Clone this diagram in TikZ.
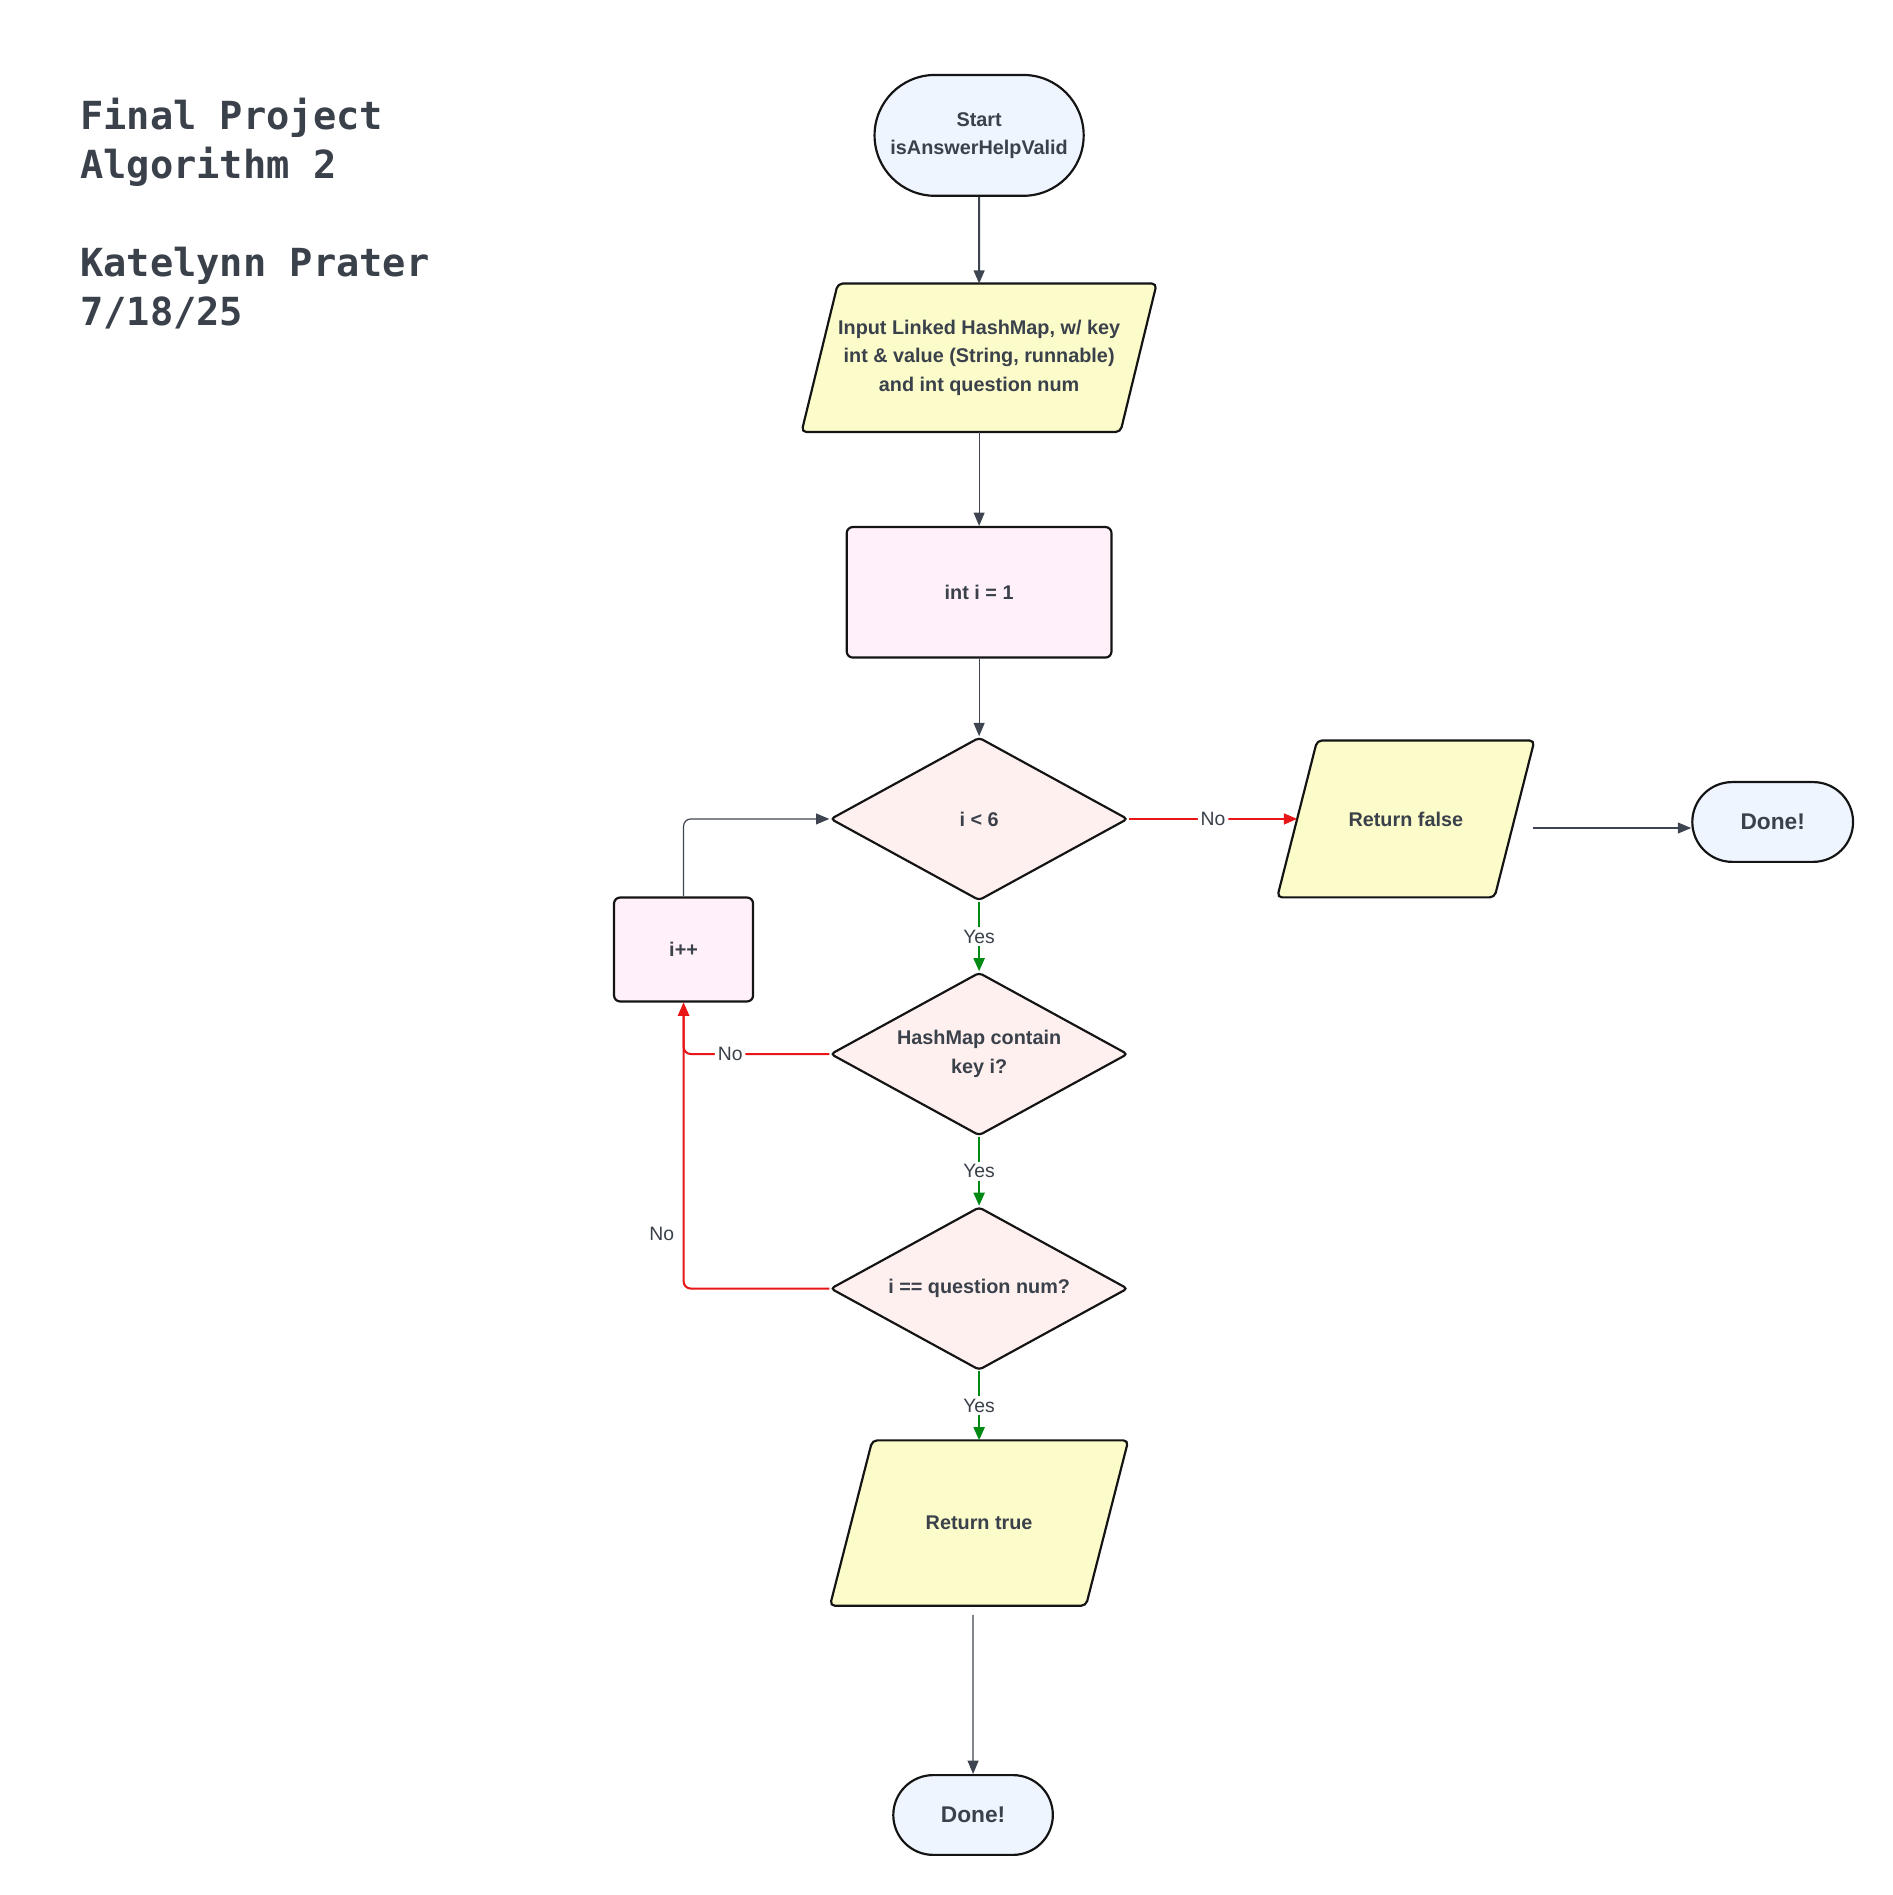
\documentclass[tikz,border=0pt]{standalone}
\usepackage{fontspec}
\setmainfont{Liberation Sans}
\newfontfamily\titlemono{DejaVu Sans Mono}
\usetikzlibrary{shapes.geometric,shapes.misc,arrows.meta,backgrounds}
\definecolor{txt}{RGB}{58,65,74}
\definecolor{termfill}{RGB}{238,245,255}
\definecolor{iofill}{RGB}{252,252,202}
\definecolor{procfill}{RGB}{255,240,250}
\definecolor{decfill}{RGB}{255,240,240}
\definecolor{linegray}{RGB}{63,69,80}
\definecolor{linered}{RGB}{232,22,22}
\definecolor{linegreen}{RGB}{0,138,20}
\tikzset{
  shp/.style={draw=black!92, line width=0.9pt, text=txt, inner sep=0pt, align=center,
    font=\bfseries\fontsize{8.2pt}{11.75pt}\selectfont},
  term/.style={shp, rounded rectangle, fill=termfill},
  iobox/.style={text=txt, inner sep=0pt, align=center,
    font=\bfseries\fontsize{8.2pt}{11.75pt}\selectfont},
  ioshape/.style={draw=black!92, line width=0.9pt, fill=iofill, rounded corners=2pt},
  proc/.style={shp, rectangle, rounded corners=2.5pt, fill=procfill},
  dec/.style={shp, diamond, aspect=1.82, fill=decfill, rounded corners=1.5pt,
    minimum width=123pt, minimum height=67.5pt},
  tip/.style={-{Triangle[length=5.5pt,width=4.5pt]}},
  gline/.style={draw=linegray, line width=0.5pt, tip},
  rline/.style={draw=linered, line width=0.85pt, tip, rounded corners=3pt},
  yline/.style={draw=linegreen, line width=1.1pt, tip},
  lbl/.style={text=txt, fill=white, inner sep=1.2pt, font=\fontsize{8pt}{10pt}\selectfont},
  ttl/.style={text=txt, inner sep=0pt, anchor=base west, font=\titlemono\bfseries\fontsize{16pt}{20pt}\selectfont}
}
\begin{document}
\begin{tikzpicture}[x=0.5pt,y=-0.5pt]
\useasboundingbox (0,0) rectangle (1566,1567.7);

\node[ttl] (t1) at (66,107.5) {Final Project};
\node[ttl] (t2) at (66,148) {Algorithm 2};
\node[ttl] (t3) at (66,229) {Katelynn Prater};
\node[ttl] (t4) at (66,269) {7/18/25};

\node[term, minimum width=86.5pt, minimum height=50pt] (start) at (810,112) {Start\\isAnswerHelpValid};
\node[iobox, minimum width=131.5pt, minimum height=61pt] (input) at (810,296) {Input Linked HashMap, w/ key\\int \& value (String, runnable)\\and int question num};
\node[proc, minimum width=109.5pt, minimum height=54pt] (init) at (810,490) {int i = 1};
\node[dec] (d1) at (810,677.5) {i {\textless} 6};
\node[iobox, minimum width=89.5pt, minimum height=64.5pt] (rf) at (1163,677.5) {Return false};
\node[term, font=\bfseries\fontsize{9.4pt}{11pt}\selectfont, minimum width=66.5pt, minimum height=33pt] (done1) at (1466.5,680) {Done!};
\node[proc, minimum width=57.5pt, minimum height=43pt] (ipp) at (565.5,785.5) {i++};
\node[dec] (d2) at (810,872) {HashMap contain\\key i?};
\node[dec] (d3) at (810,1066) {i == question num?};
\node[iobox, minimum width=105.5pt, minimum height=68pt] (rt) at (810,1260) {Return true};
\node[term, font=\bfseries\fontsize{9.4pt}{11pt}\selectfont, minimum width=66pt, minimum height=33pt] (done2) at (805,1501.5) {Done!};

\begin{pgfonlayer}{background}
\draw[ioshape] ([xshift=-7.5pt]input.south west) -- ([xshift=7.5pt]input.north west) -- ([xshift=7.5pt]input.north east) -- ([xshift=-7.5pt]input.south east) -- cycle;
\draw[ioshape] ([xshift=-8.25pt]rf.south west) -- ([xshift=8.25pt]rf.north west) -- ([xshift=8.25pt]rf.north east) -- ([xshift=-8.25pt]rf.south east) -- cycle;
\draw[ioshape] ([xshift=-8.75pt]rt.south west) -- ([xshift=8.75pt]rt.north west) -- ([xshift=8.75pt]rt.north east) -- ([xshift=-8.75pt]rt.south east) -- cycle;
\end{pgfonlayer}

\coordinate (rfout) at (1268,685);
\coordinate (rtout) at (805,1336);

\draw[gline, line width=0.8pt] (start) -- (input);
\draw[gline] (input) -- (init);
\draw[gline] (init) -- (d1);
\draw[rline] (d1) -- node[lbl]{No} (rf);
\draw[gline] (rfout) -- (rfout -| done1.west);
\draw[yline] (d1) -- node[lbl]{Yes} (d2);
\draw[yline] (d2) -- node[lbl]{Yes} (d3);
\draw[yline] (d3) -- node[lbl]{Yes} (rt);
\draw[rline] (d2.west) -- node[lbl, pos=0.68]{No} (d2.west -| ipp.south) -- (ipp.south);
\draw[rline] (d3.west) -- (d3.west -| ipp.south) -- node[pos=0.19, anchor=east, text=txt, inner sep=0pt, xshift=-3.5pt, font=\fontsize{8pt}{10pt}\selectfont]{No} (ipp.south);
\draw[gline, rounded corners=3pt] (ipp.north) |- (d1.west);
\draw[gline] (rtout) -- (done2);
\end{tikzpicture}
\end{document}
